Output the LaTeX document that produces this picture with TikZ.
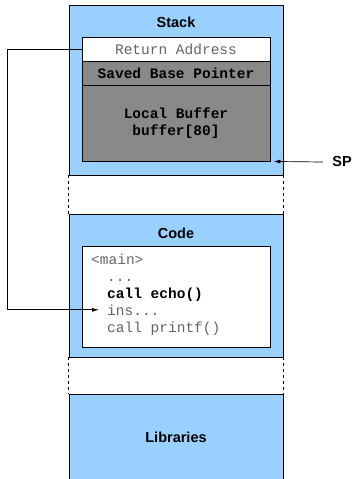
\documentclass[tikz,border=0pt]{standalone}
\usepackage{fontspec}
\setmainfont{Liberation Sans}
\newfontfamily\codefont{Liberation Mono}
\usetikzlibrary{arrows.meta}
\usetikzlibrary{positioning}

\definecolor{segblue}{RGB}{153,208,255}
\definecolor{framegray}{RGB}{137,137,137}
\definecolor{codegray}{RGB}{100,100,100}

\tikzset{
	region/.style={draw,fill=segblue,line width=0.9pt,minimum width=214pt,inner sep=0pt},
	cell/.style={draw,line width=0.9pt,minimum width=188pt,inner sep=0pt},
	title/.style={font=\fontsize{14.5}{17}\selectfont\bfseries},
	mono/.style={font=\fontsize{14.5}{17}\selectfont\codefont,inner sep=0pt,anchor=base west},
}

\begin{document}
\begin{tikzpicture}[x=1pt,y=-1pt]
		\useasboundingbox (0,0) rectangle (352,479);
		% stack segment
		\node[region,minimum height=170pt] (stack) at (176,90) {};
		\node[title] (stacklbl) at (176,22) {Stack};
		\node[cell,fill=white,minimum height=24pt] (ret) at (176,49) {};
		\node[mono,anchor=center,text=codegray] at (ret.center) {Return Address};
		\node[cell,fill=framegray,minimum height=24pt] (sbp) at (176,73) {};
		\node[mono,anchor=center,font=\fontsize{14.5}{17}\selectfont\codefont\bfseries] at (sbp.center) {Saved Base Pointer};
		\node[cell,fill=framegray,minimum height=76pt] (buf) at (176,123) {};
		\node[mono,anchor=center,align=center,font=\fontsize{14.5}{17}\selectfont\codefont\bfseries] at (buf.center) {Local Buffer\\buffer[80]};
		% code segment
		\node[region,minimum height=143pt] (code) at (176,285.5) {};
		\node[title] (codelbl) at (176,233) {Code};
		\node[cell,fill=white,minimum height=101pt] (listing) at (176,296.5) {};
		\node[mono,text=codegray] (l1) at (91,264) {<main>};
		\node[mono,text=codegray] (l2) at (107,281) {...};
		\node[mono,font=\fontsize{14.5}{17}\selectfont\codefont\bfseries] (l3) at (107,298) {call echo()};
		\node[mono,text=codegray] (ins) at (107,315) {ins...};
		\node[mono,text=codegray] (l5) at (107,332) {call printf()};
		% libraries (runs off the bottom)
		\node[region,minimum height=100pt] (libs) at (176,444) {};
		\node[title] (libslbl) at (176,437) {Libraries};
		% gaps
		\draw[dashed,line width=0.9pt] (stack.south west)--(code.north west);
		\draw[dashed,line width=0.9pt] (stack.south east)--(code.north east);
		\draw[dashed,line width=0.9pt] (code.south west)--(libs.north west);
		\draw[dashed,line width=0.9pt] (code.south east)--(libs.north east);
		% return address and stack pointer
		\draw[-{Latex[length=7pt,width=4pt]},line width=0.7pt] (ret.west)--++(-74,0)|-([xshift=-8pt]ins.west);
		\node[title] (sp) at (342,162) {SP};
		\draw[-{Latex[length=7pt,width=4pt]},line width=0.7pt] ([xshift=-6pt]sp.west)--([xshift=3pt]buf.south east);
	\end{tikzpicture}
\end{document}
